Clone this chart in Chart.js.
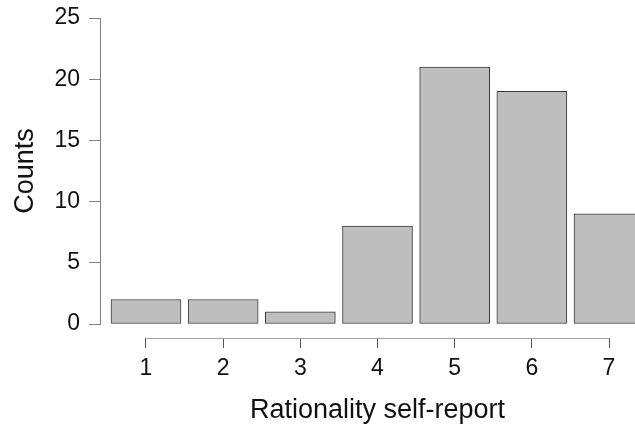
<!DOCTYPE html>
<html>
<head>
<meta charset="utf-8">
<script src="https://cdn.jsdelivr.net/npm/chart.js@4/dist/chart.umd.min.js"></script>
<style>
html, body { margin: 0; padding: 0; overflow: hidden; background: #fff; }
#wrap { width: 655px; height: 428px; }
</style>
</head>
<body>
<div id="wrap"><canvas id="c" width="655" height="428"></canvas></div>
<script>
const categories = [1, 2, 3, 4, 5, 6, 7];
const counts = [2, 2, 1, 8, 21, 19, 9];
const yTicks = [0, 5, 10, 15, 20, 25];
const xTitle = 'Rationality self-report';
const yTitle = 'Counts';

const FONT = '"Liberation Sans", Arial, sans-serif';

const xAxisLine = {
  id: 'xAxisLine',
  afterDraw(chart) {
    const ctx = chart.ctx;
    const xs = chart.scales.x, ys = chart.scales.y;
    ctx.save();
    ctx.strokeStyle = '#a0a0a0';
    ctx.lineWidth = 1;
    const xy = Math.round(ys.bottom) + 14.5;
    ctx.beginPath();
    ctx.moveTo(Math.round(xs.getPixelForValue(categories[0])) + 0.5, xy);
    ctx.lineTo(Math.round(xs.getPixelForValue(categories[categories.length - 1])) + 0.5, xy);
    ctx.stroke();
    ctx.restore();
  }
};

new Chart(document.getElementById('c'), {
  type: 'bar',
  data: {
    datasets: [{
      data: categories.map((c, i) => ({ x: c, y: counts[i] })),
      backgroundColor: '#bebebe',
      borderColor: '#3a3a3a',
      borderWidth: 1,
      barThickness: 70,
      borderSkipped: false
    }]
  },
  options: {
    responsive: false,
    animation: false,
    layout: { padding: { top: 18, right: 0, left: 0, bottom: 0 } },
    plugins: { legend: { display: false }, tooltip: { enabled: false } },
    scales: {
      x: {
        type: 'linear',
        position: 'bottom',
        offset: false,
        min: 0.4039,
        max: 7.596,
        afterBuildTicks(scale) { scale.ticks = categories.map(v => ({ value: v })); },
        afterFit(scale) { scale.height = 104; scale.paddingLeft = 0; scale.paddingRight = 0; },
        border: { display: false },
        grid: {
          display: true, offset: false, drawOnChartArea: false, drawTicks: true,
          tickLength: 24, tickBorderDash: [0, 14, 10, 100], color: '#555'
        },
        ticks: {
          color: '#111',
          font: { family: FONT, size: 23 },
          padding: 7,
          maxRotation: 0,
          autoSkip: false,
          callback: (v) => String(v)
        },
        title: {
          display: true,
          text: xTitle,
          color: '#111',
          font: { family: FONT, size: 27 },
          padding: { top: 0, bottom: 1 }
        }
      },
      y: {
        type: 'linear',
        position: 'left',
        min: 0,
        max: 25,
        afterBuildTicks(scale) { scale.ticks = yTicks.map(v => ({ value: v })); },
        afterFit(scale) { scale.width = 100; scale.paddingTop = 0; scale.paddingBottom = 0; },
        border: { display: true, color: '#808080', width: 1 },
        grid: { display: true, drawOnChartArea: false, drawTicks: true, tickLength: 11, color: '#808080' },
        ticks: {
          color: '#111',
          font: { family: FONT, size: 23 },
          padding: 9,
          callback: (v) => String(v)
        },
        title: {
          display: true,
          text: yTitle,
          color: '#111',
          font: { family: FONT, size: 27 },
          padding: { top: 9, bottom: 0 }
        }
      }
    }
  },
  plugins: [xAxisLine]
});
</script>
</body>
</html>
